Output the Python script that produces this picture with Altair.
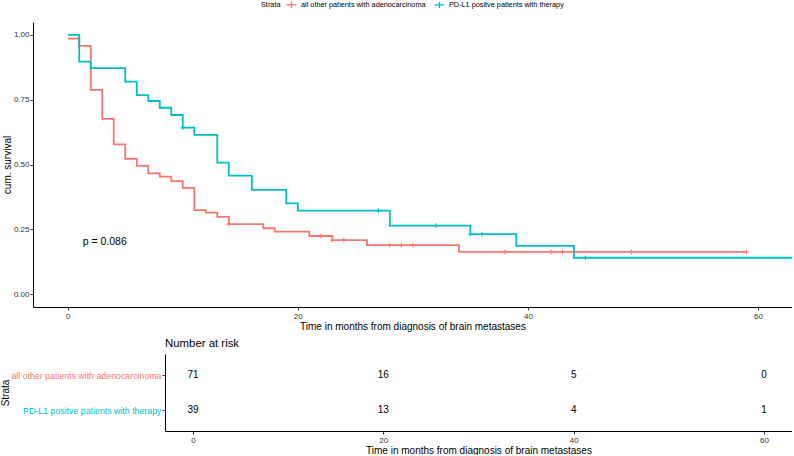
import altair as alt
import pandas as pd

RED = "#F8766D"
CYAN = "#00BFC4"
G1 = "all other patients with adenocarcinoma"
G2 = "PD-L1 positve patients with therapy"

# Kaplan-Meier steps
red_t = [0, 1, 2, 3, 4, 5, 6, 7, 8, 9, 10, 11, 12, 13, 14, 17, 18, 21, 23, 26, 34, 59]
red_s = [0.986, 0.958, 0.788, 0.676, 0.578, 0.522, 0.495, 0.466, 0.453, 0.436, 0.410,
         0.324, 0.314, 0.298, 0.270, 0.254, 0.241, 0.224, 0.208, 0.189, 0.163, 0.163]
red_cens_t = [14, 22, 23, 24, 28, 29, 30, 38, 42, 43, 49, 59]
red_cens_s = [0.270, 0.224, 0.208, 0.208, 0.189, 0.189, 0.189, 0.163, 0.163, 0.163, 0.163, 0.163]

cyan_t = [0, 1, 2, 5, 6, 7, 8, 9, 10, 11, 13, 14, 16, 19, 20, 28, 35, 39, 44, 63]
cyan_s = [1.0, 0.897, 0.872, 0.820, 0.768, 0.745, 0.719, 0.691, 0.642, 0.614, 0.507,
          0.457, 0.402, 0.350, 0.322, 0.264, 0.231, 0.186, 0.140, 0.140]
cyan_cens_t = [10, 27, 32, 35, 36, 45]
cyan_cens_s = [0.642, 0.322, 0.264, 0.231, 0.231, 0.140]

risk_times = [0, 20, 40, 60]
risk_g1 = [71, 16, 5, 0]
risk_g2 = [39, 13, 4, 1]

pval_text = "p = 0.086"

FONT = "Liberation Sans"
XDOM = [-3.02, 62.96]
XDOM_T = [-2.94, 62.94]

curves = pd.DataFrame(
    {"t": red_t + cyan_t, "s": red_s + cyan_s,
     "g": [G1] * len(red_t) + [G2] * len(cyan_t)})
cens = pd.DataFrame(
    {"t": red_cens_t + cyan_cens_t, "s": red_cens_s + cyan_cens_s,
     "g": [G1] * len(red_cens_t) + [G2] * len(cyan_cens_t)})

color = alt.Color(
    "g:N",
    scale=alt.Scale(domain=[G1, G2], range=[RED, CYAN]),
    legend=alt.Legend(
        title="Strata", orient="none", direction="horizontal",
        legendX=228, legendY=-22, titleOrient="left",
        titleFontSize=7.3, titleFontWeight="normal", titleColor="#000",
        labelFontSize=7.3, labelColor="#000", titlePadding=6,
        symbolType="M-1.3,0L1.3,0M0,-0.8L0,0.8", symbolSize=55,
        symbolStrokeWidth=1.3, columnPadding=6, labelOffset=5,
        titleBaseline="middle", titleLimit=0,
    ),
)

xax = alt.Axis(values=[0, 20, 40, 60], title="Time in months from diagnosis of brain metastases",
               grid=False, tickSize=3, labelFontSize=8, titleFontSize=10, titleFontWeight="normal",
               labelPadding=2, titlePadding=1, domainColor="#000", tickColor="#333", labelColor="#333",
               titleColor="#000")
yax = alt.Axis(values=[0, 0.25, 0.5, 0.75, 1.0], format=".2f", title="cum. survival", grid=False,
               tickSize=3, labelFontSize=8, titleFontSize=10, titleFontWeight="normal",
               labelPadding=1, titlePadding=1, domainColor="#000", tickColor="#333", labelColor="#333",
               titleColor="#000")

xs = alt.X("t:Q", scale=alt.Scale(domain=XDOM, nice=False, zero=False), axis=xax)
ys = alt.Y("s:Q", scale=alt.Scale(domain=[-0.05, 1.05], nice=False, zero=False), axis=yax)

lines = alt.Chart(curves).mark_line(interpolate="step-after", strokeWidth=1.8, clip=True).encode(
    x=xs, y=ys, color=color, detail="g:N")
marks = alt.Chart(cens).mark_point(shape="M-1,0L1,0M0,-1L0,1", size=22, filled=False,
                                   strokeWidth=1.1, opacity=1).encode(
    x="t:Q", y="s:Q", color=alt.Color("g:N", legend=None, scale=alt.Scale(domain=[G1, G2], range=[RED, CYAN])))
ptext = alt.Chart(pd.DataFrame({"t": [1.3], "s": [0.2], "lab": [pval_text]})).mark_text(
    align="left", baseline="middle", fontSize=10.5, font=FONT, color="#000").encode(
    x="t:Q", y="s:Q", text="lab:N")

upper = alt.layer(lines, marks, ptext).properties(width=759, height=285)

risk = pd.DataFrame({
    "t": risk_times * 2,
    "g": [G1] * 4 + [G2] * 4,
    "n": risk_g1 + risk_g2,
})

lower = alt.Chart(risk).mark_text(fontSize=10, font=FONT, color="#000", baseline="middle").encode(
    x=alt.X("t:Q", scale=alt.Scale(domain=XDOM_T, nice=False, zero=False, range=[132, 759]),
            axis=alt.Axis(values=[0, 20, 40, 60], title="Time in months from diagnosis of brain metastases",
                          grid=False, tickSize=3, labelFontSize=8, titleFontSize=10,
                          titleFontWeight="normal", labelPadding=2, titlePadding=1,
                          domainColor="#000", tickColor="#333", labelColor="#333", titleColor="#000")),
    y=alt.Y("g:N", scale=alt.Scale(domain=[G1, G2], type="point", padding=0.6),
            axis=alt.Axis(title="Strata", offset=-132, tickSize=3, labelFontSize=8.8, titleFontSize=10,
                          titleFontWeight="normal", labelPadding=1, titlePadding=0, labelLimit=0,
                          domainColor="#000", tickColor="#333", titleColor="#000",
                          labelColor={"condition": {"test": f"datum.value === '{G1}'", "value": RED},
                                      "value": CYAN})),
    text="n:Q",
).properties(width=759, height=77,
             title=alt.TitleParams("Number at risk", anchor="start", frame="group", dx=132,
                                   fontSize=11.4, fontWeight="normal", font=FONT, color="#000",
                                   offset=5))

chart = alt.vconcat(upper, lower, spacing=6).properties(
    padding={"left": 0, "top": 0, "right": 0, "bottom": 0}
).configure(
    font=FONT,
    view=alt.ViewConfig(strokeWidth=0, stroke="transparent"),
    axis=alt.AxisConfig(labelFont=FONT, titleFont=FONT),
    legend=alt.LegendConfig(labelFont=FONT, titleFont=FONT),
)

chart.save("out.html", embed_options={"renderer": "svg", "actions": False})
